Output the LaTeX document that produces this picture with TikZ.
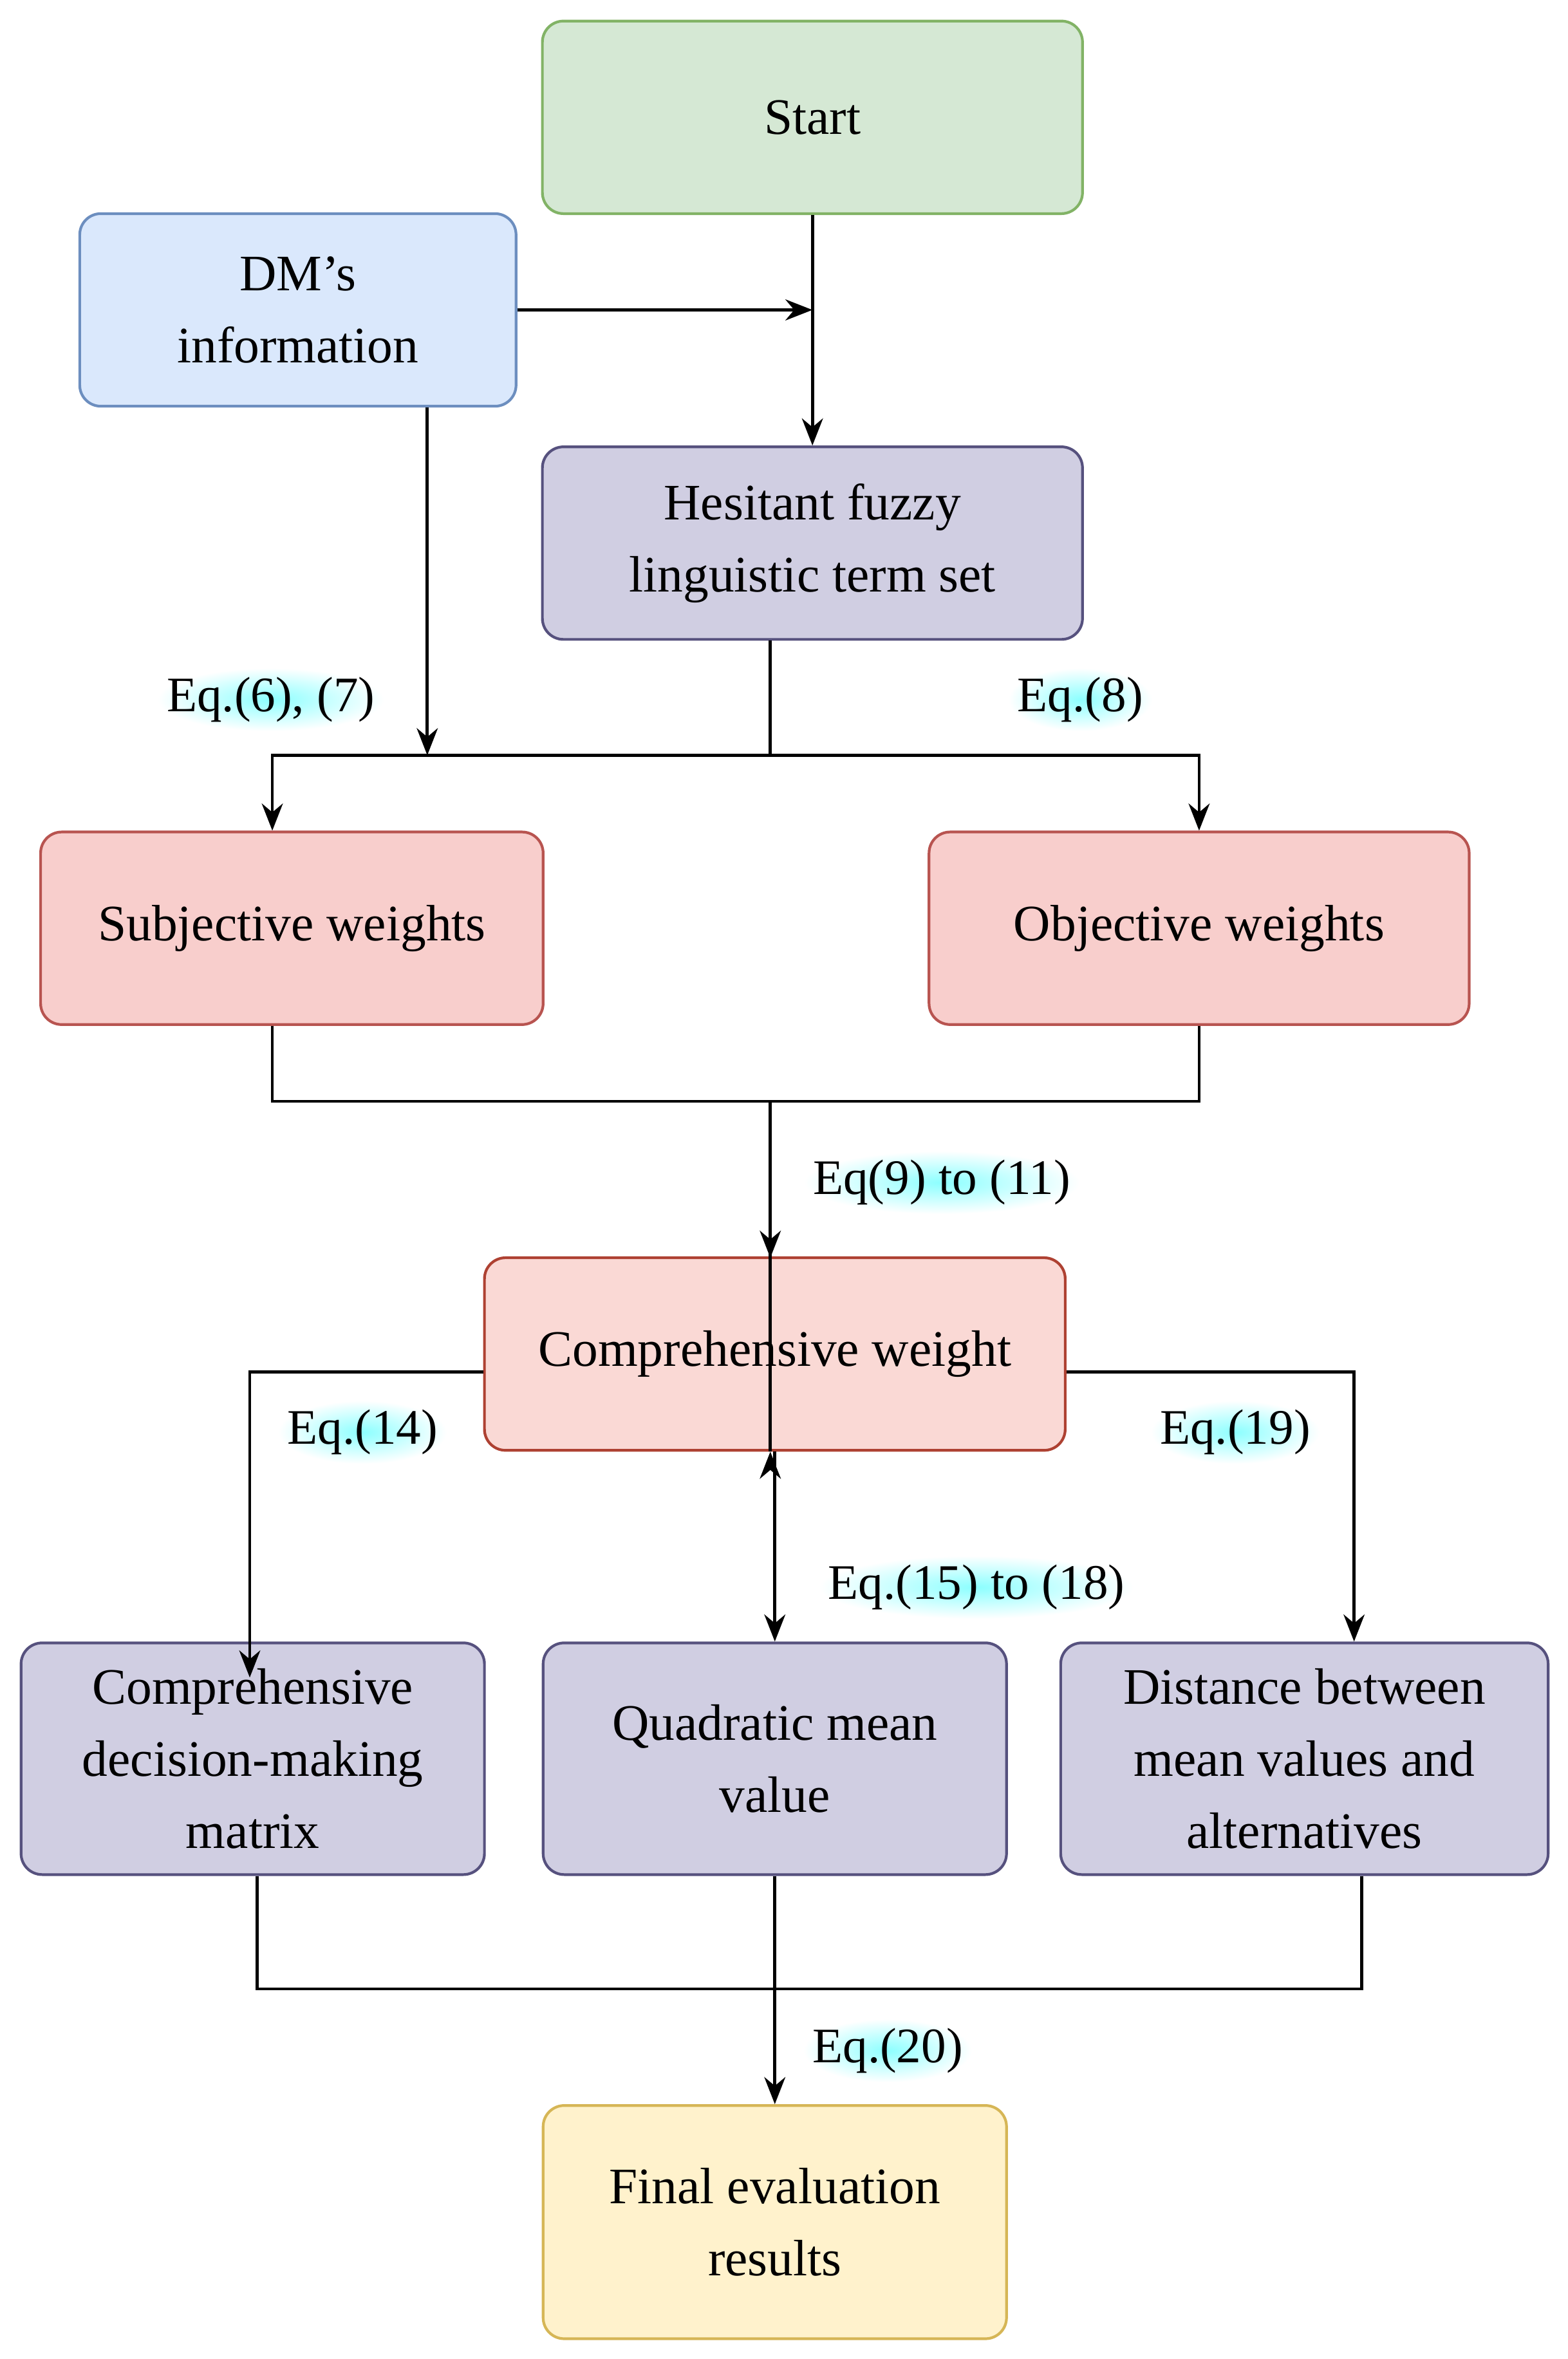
\documentclass[tikz,border=0pt]{standalone}
\usepackage{fontspec}
\setmainfont{Liberation Serif}
\usetikzlibrary{arrows.meta,shadings}
\definecolor{gF}{HTML}{D5E8D4}\definecolor{gS}{HTML}{82B366}
\definecolor{bF}{HTML}{DAE8FC}\definecolor{bS}{HTML}{6C8EBF}
\definecolor{pF}{HTML}{D0CEE2}\definecolor{pS}{HTML}{56517E}
\definecolor{rF}{HTML}{F8CECC}\definecolor{rS}{HTML}{B85450}
\definecolor{r2F}{HTML}{FAD9D5}\definecolor{r2S}{HTML}{AE4132}
\definecolor{yF}{HTML}{FFF2CC}\definecolor{yS}{HTML}{D6B656}
\begin{document}
\begin{tikzpicture}[x=1pt,y=-1pt,
 box/.style={draw,line width=1.8pt,rounded corners=14pt,align=center,inner sep=0pt,
   font=\fontsize{34}{48}\selectfont},
 ln/.style={line width=2pt},
 ar/.style={ln,-{Stealth[length=18pt,width=14pt]}},
 lab/.style={font=\fontsize{33}{40}\selectfont,inner sep=6pt,shading=radial,
   inner color=cyan!45,outer color=white}]
\useasboundingbox (0,0) rectangle (1042,1568);
\node[box,fill=gF,draw=gS,minimum width=359pt,minimum height=128pt] (start) at (540,78) {Start};
\node[box,fill=bF,draw=bS,minimum width=290pt,minimum height=128pt] (dm) at (198,206) {DM's\\information};
\node[box,fill=pF,draw=pS,minimum width=359pt,minimum height=128pt] (hf) at (540,361) {Hesitant fuzzy\\linguistic term set};
\node[box,fill=rF,draw=rS,minimum width=334pt,minimum height=128pt] (sw) at (194,617) {Subjective weights};
\node[box,fill=rF,draw=rS,minimum width=359pt,minimum height=128pt] (ow) at (797,617) {Objective weights};
\node[box,fill=r2F,draw=r2S,minimum width=386pt,minimum height=128pt] (cw) at (515,900) {Comprehensive weight};
\node[box,fill=pF,draw=pS,minimum width=308pt,minimum height=154pt] (cd) at (168,1169) {Comprehensive\\decision-making\\matrix};
\node[box,fill=pF,draw=pS,minimum width=308pt,minimum height=154pt] (qm) at (515,1169) {Quadratic mean\\value};
\node[box,fill=pF,draw=pS,minimum width=324pt,minimum height=154pt] (dv) at (867,1169) {Distance between\\mean values and\\alternatives};
\node[box,fill=yF,draw=yS,minimum width=308pt,minimum height=155pt] (fe) at (515,1477) {Final evaluation\\results};
% labels
\node[lab] (l1) at (180,465) {Eq.(6), (7)};
\node[lab] (l2) at (718,465) {Eq.(8)};
\node[lab] (l3) at (626,786) {Eq(9) to (11)};
\node[lab] (l4) at (241,952) {Eq.(14)};
\node[lab] (l5) at (821,952) {Eq.(19)};
\node[lab] (l6) at (649,1055) {Eq.(15) to (18)};
\node[lab] (l7) at (590,1363) {Eq.(20)};
% connectors
\coordinate (m1) at (540,206);
\draw[ar] (start.south) -- (hf.north);
\draw[ar] (dm.east) -- (m1);
\coordinate (j1) at (284,502);
\draw[ar] (dm.south -| j1) -- (j1);
\draw[ln] (hf.south -| 512,0) -- (512,502);
\draw[ar] (512,502) -| (sw.north -| 181,0);
\draw[ar] (512,502) -| (ow.north);
\draw[ln] (sw.south -| 181,0) -- (181,732) -| (ow.south);
\draw[ar] (512,732) -- (cw.south -| 512,0) ++(0,0);
\draw[ar] (512,732) -- (512,836);
\coordinate (e1) at (166,1115);
\draw[ar] (cw.west |- 0,912) -| (e1);
\draw[ar] (cw.east |- 0,912) -| (dv.north -| 900,0);
\draw[ar] (cw.south) -- (qm.north);
\draw[ln] (cd.south -| 171,0) -- (171,1322) -| (dv.south -| 905,0);
\draw[ar] (qm.south) -- (fe.north);
\end{tikzpicture}
\end{document}
